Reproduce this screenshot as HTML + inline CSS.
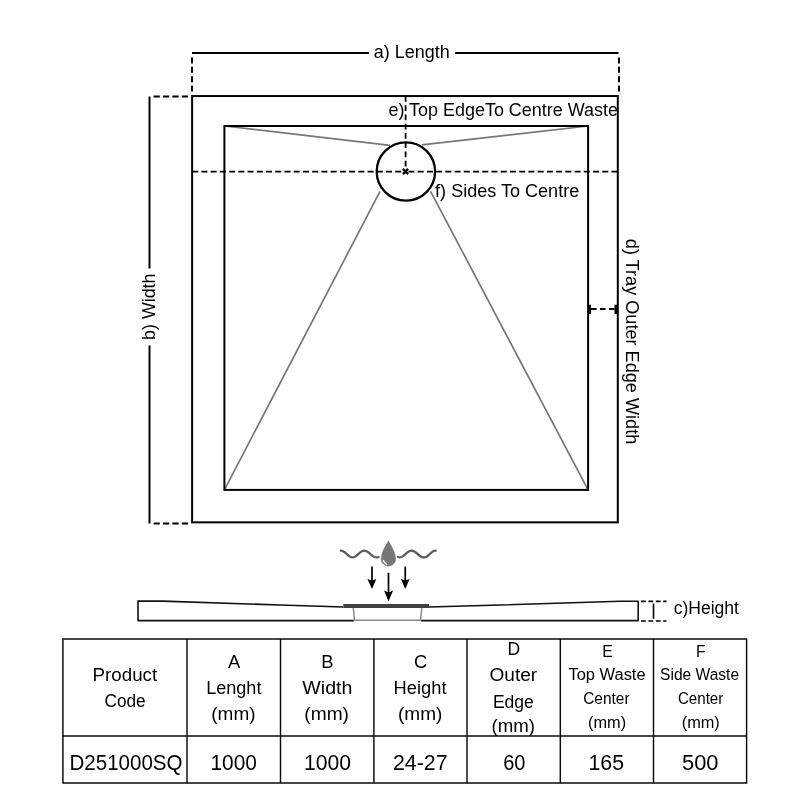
<!DOCTYPE html>
<html><head><meta charset="utf-8">
<style>
html,body{margin:0;padding:0;background:#fff;width:800px;height:800px;overflow:hidden;}
svg{display:block;position:absolute;left:0;top:0;will-change:transform;}
text{font-family:"Liberation Sans",sans-serif;fill:#000;}
.tb text{fill:#000;}
</style></head>
<body>
<svg width="800" height="800" viewBox="0 0 800 800">
<rect x="0" y="0" width="800" height="800" fill="#fff"/>
<g fill="none" stroke="#000" stroke-width="2">
  <path d="M192,53 H369 M455,53 H618.5" />
  <path d="M192,57.4 V92 M619,57.4 V92" stroke-dasharray="6 3.4" />
  <path d="M149.5,96.5 V268.5 M149.5,345.5 V523.5" />
  <path d="M153.6,96.5 H189 M153.6,523.5 H189" stroke-dasharray="6.2 3.2" />
</g>
<g stroke="#777" stroke-width="1.7" fill="none">
  <path d="M224.4,126.0 L390,145.3 M588.1,126.0 L421.8,144.9 M224.4,489.9 L380,191.4 M588.1,489.9 L430.6,191.4"/>
</g>
<g fill="none" stroke="#000" stroke-width="2">
  <rect x="192.1" y="96.05" width="425.7" height="426.3"/>
  <rect x="224.4" y="126.0" width="363.7" height="363.9"/>
</g>
<circle cx="405.9" cy="171.5" r="29.2" fill="#fff" stroke="#000" stroke-width="2.3"/>
<g fill="none" stroke="#000" stroke-width="1.8" stroke-dasharray="5.8 3.45">
  <path d="M405.6,96 V171.5"/>
  <path d="M192.2,171.65 H405.9 M617.5,171.65 H405.9" stroke-dasharray="6 3.23"/>
  <path d="M591,309 H614.7" stroke-dasharray="5.6 3.4"/>
</g>
<g stroke="#000" stroke-width="2.2">
  <path d="M402.9,168.9 L408.1,174.1 M408.1,168.9 L402.9,174.1"/>
</g>
<rect x="588" y="304.7" width="3" height="9.3" fill="#000"/>
<rect x="614.5" y="304.7" width="3" height="9.3" fill="#000"/>
<text x="373.80" y="58.0" font-size="17.5" textLength="76.00" lengthAdjust="spacingAndGlyphs">a) Length</text>
<text x="388.40" y="115.9" font-size="17.5" textLength="229.60" lengthAdjust="spacingAndGlyphs">e) Top EdgeTo Centre Waste</text>
<text x="435.10" y="197.0" font-size="17.5" textLength="144.10" lengthAdjust="spacingAndGlyphs">f) Sides To Centre</text>
<text x="673.70" y="614.4" font-size="17.5" textLength="65.30" lengthAdjust="spacingAndGlyphs">c)Height</text>
<text transform="translate(154.75,0) rotate(-90)" x="-339.90" y="0" font-size="17.5" textLength="66.30" lengthAdjust="spacingAndGlyphs">b) Width</text>
<text transform="translate(626.1,0) rotate(90)" x="238.80" y="0" font-size="17.5" textLength="205.50" lengthAdjust="spacingAndGlyphs">d) Tray Outer Edge Width</text>
<g fill="none" stroke="#5e5e5e" stroke-width="2.4" stroke-linecap="round">
  <path d="M340.8,550.6 C346.11,550.6 347.29,557.4 352.6,557.4 C357.78,557.4 358.93,550.6 364.1,550.6 C369.68,550.6 370.92,557.4 376.5,557.4 C377.5,557.4 378.2,557.2 378.6,557"/>
  <path d="M398,556.9 C398.4,557.2 398.9,557.4 399.5,557.4 C404.94,557.4 406.16,550.6 411.6,550.6 C417.18,550.6 418.42,557.5 424,557.5 C429.22,557.5 430.38,550.6 435.6,550.6"/>
</g>
<path d="M388.4,541 C389.6,543.6 394.9,551.2 395.0,555.9 A7.2,7.2 0 1 1 381.8,555.9 C381.9,551.2 387.2,543.6 388.4,541 Z" fill="#777" stroke="#6a6a6a" stroke-width="0.6"/>
<path d="M383.3,560.3 C384,562.2 385.2,563.6 386.6,564.4" stroke="#fff" stroke-width="1.3" fill="none" stroke-linecap="round"/>
<g stroke="#000" stroke-width="1.7">
  <path d="M372,566.5 V582 M388.5,572.8 V593 M405.25,566.5 V582"/>
</g>
<g fill="#000">
  <path d="M367.4,578.9 L372,580.6 L376.3,578.9 L372,589 Z"/>
  <path d="M384,590.6 L388.5,592.4 L393.1,590.6 L388.5,601.2 Z"/>
  <path d="M400.9,578.9 L405.25,580.6 L409.6,578.9 L405.25,589 Z"/>
</g>
<g fill="none" stroke="#111" stroke-width="1.6" stroke-linejoin="round">
  <path d="M343.5,607 L280,605 L162.5,601.1 L138,601.1 V620.6 H354"/>
  <path d="M429,607 L500,605 L620,601.3 L638.2,601.3 V620.6 H421"/>
</g>
<g fill="none" stroke="#888" stroke-width="1.5">
  <path d="M353.3,608 L354.5,620.3 H420.5 L421.8,608"/>
</g>
<rect x="343.4" y="604" width="85.6" height="4" fill="#404040"/>
<g fill="none" stroke="#000" stroke-width="1.6">
  <path d="M641,601.4 H666.5 M641,621 H666.5" stroke-dasharray="4.8 2.6"/>
  <path d="M653.5,603.5 V618.8"/>
</g>
<g fill="none" stroke="#0a0a0a" stroke-width="1.45">
  <path d="M62.9,639 H746.6 V782.9 H62.9 Z"/>
  <path d="M62.9,736.0 H746.6"/>
  <path d="M187.0,639 V782.9 M280.5,639 V782.9 M373.9,639 V782.9 M467.0,639 V782.9 M560.3,639 V782.9 M653.5,639 V782.9"/>
</g>
<g class="tb">
<text x="92.60" y="680.8" font-size="18" textLength="64.60" lengthAdjust="spacingAndGlyphs">Product</text>
<text x="104.50" y="707.1" font-size="18" textLength="41.10" lengthAdjust="spacingAndGlyphs">Code</text>
<text x="234.18" y="667.5" font-size="18.4" text-anchor="middle">A</text>
<text x="206.20" y="694.1" font-size="18" textLength="55.25" lengthAdjust="spacingAndGlyphs">Lenght</text>
<text x="211.30" y="719.9" font-size="18" textLength="44.30" lengthAdjust="spacingAndGlyphs">(mm)</text>
<text x="327.35" y="667.5" font-size="18.4" text-anchor="middle">B</text>
<text x="302.30" y="694.1" font-size="18" textLength="50.15" lengthAdjust="spacingAndGlyphs">Width</text>
<text x="304.30" y="719.9" font-size="18" textLength="44.70" lengthAdjust="spacingAndGlyphs">(mm)</text>
<text x="420.75" y="667.5" font-size="18.4" text-anchor="middle">C</text>
<text x="393.60" y="694.1" font-size="18" textLength="52.90" lengthAdjust="spacingAndGlyphs">Height</text>
<text x="398.00" y="719.9" font-size="18" textLength="44.40" lengthAdjust="spacingAndGlyphs">(mm)</text>
<text x="513.90" y="654.9" font-size="17.5" text-anchor="middle">D</text>
<text x="489.50" y="681.25" font-size="17.5" textLength="47.70" lengthAdjust="spacingAndGlyphs">Outer</text>
<text x="492.90" y="707.8" font-size="17.5" textLength="41.00" lengthAdjust="spacingAndGlyphs">Edge</text>
<text x="491.50" y="731.6" font-size="17.5" textLength="43.50" lengthAdjust="spacingAndGlyphs">(mm)</text>
<text x="607.50" y="656.5" font-size="15.8" text-anchor="middle">E</text>
<text x="568.50" y="680.0" font-size="15.8" textLength="77.10" lengthAdjust="spacingAndGlyphs">Top Waste</text>
<text x="583.20" y="704.3" font-size="15.8" textLength="46.40" lengthAdjust="spacingAndGlyphs">Center</text>
<text x="588.00" y="728.3" font-size="15.8" textLength="38.10" lengthAdjust="spacingAndGlyphs">(mm)</text>
<text x="700.75" y="656.5" font-size="15.8" text-anchor="middle">F</text>
<text x="660.10" y="680.0" font-size="15.8" textLength="79.00" lengthAdjust="spacingAndGlyphs">Side Waste</text>
<text x="677.90" y="704.3" font-size="15.8" textLength="45.40" lengthAdjust="spacingAndGlyphs">Center</text>
<text x="681.70" y="728.3" font-size="15.8" textLength="38.10" lengthAdjust="spacingAndGlyphs">(mm)</text>
<text x="69.50" y="770.2" font-size="22" textLength="113.00" lengthAdjust="spacingAndGlyphs">D251000SQ</text>
<text x="210.50" y="770.2" font-size="22" textLength="46.50" lengthAdjust="spacingAndGlyphs">1000</text>
<text x="304.00" y="770.2" font-size="22" textLength="47.00" lengthAdjust="spacingAndGlyphs">1000</text>
<text x="393.00" y="770.2" font-size="22" textLength="54.50" lengthAdjust="spacingAndGlyphs">24-27</text>
<text x="503.25" y="770.2" font-size="22" textLength="22.25" lengthAdjust="spacingAndGlyphs">60</text>
<text x="588.50" y="770.2" font-size="22" textLength="35.50" lengthAdjust="spacingAndGlyphs">165</text>
<text x="682.00" y="770.2" font-size="22" textLength="36.50" lengthAdjust="spacingAndGlyphs">500</text>
</g>
</svg>

</body></html>
